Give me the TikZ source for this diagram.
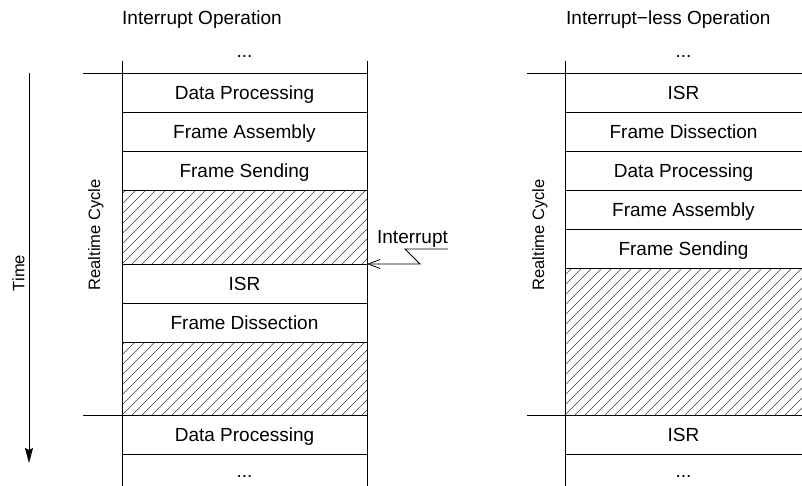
\documentclass[tikz,border=0pt]{standalone}
\usepackage{fontspec}
\setmainfont{Liberation Sans}
\usetikzlibrary{arrows.meta}

% hatched idle slot between (#1,#2) and (#3,#4), lines at 45 degrees
\newcommand\idleslot[4]{%
  \begin{scope}
    \clip (#1,#2) rectangle (#3,#4);
    \foreach \s in {-160,-150,...,260}
      \draw[hatchline] (#1+\s,#4) -- (#1+\s+#4-#2,#2);
  \end{scope}}

\begin{document}
\begin{tikzpicture}[x=1pt,y=-1pt,
  lbl/.style={font=\fontsize{19}{22}\selectfont, inner sep=0pt, anchor=base},
  side/.style={font=\fontsize{16.5}{20}\selectfont, inner sep=0pt, rotate=90},
  rule/.style={line width=0.9pt, line cap=rect},
  hatchline/.style={black!75, line width=0.55pt}]
\useasboundingbox (0,0) rectangle (802,486);

% ---------- titles ----------
\node[lbl, anchor=base west] (t1) at (122,25) {Interrupt Operation};
\node[lbl, anchor=base west] (t2) at (566,25) {Interrupt\char"2212 less Operation};

% ---------- time axis ----------
\coordinate (tstart) at (29,73);
\coordinate (tend) at (29,463);
\draw[line width=0.9pt, -{Stealth[length=15pt,width=8pt,inset=2pt]}] (tstart) -- (tend);
\node[side, anchor=center] (time) at (18.5,273) {Time};

% ---------- interrupt operation column ----------
\idleslot{122}{190}{367}{264}
\idleslot{122}{342}{367}{415}
\draw[rule] (122,61) -- (122,486);
\draw[rule] (367,61) -- (367,486);
\draw[rule] (83,73) -- (367,73);
\draw[rule] (83,415) -- (367,415);
\foreach \y in {112,151,190,264,303,342,454}
  \draw[rule] (122,\y) -- (367,\y);

\node[side, anchor=base] (cyc1) at (100,235) {Realtime Cycle};

\node[lbl] (a0) at (244.5,58) {...};
\node[lbl] (a1) at (244.5,99.5) {Data Processing};
\node[lbl] (a2) at (244.5,138.5) {Frame Assembly};
\node[lbl] (a3) at (244.5,177.5) {Frame Sending};
\node[lbl] (a4) at (244.5,290.5) {ISR};
\node[lbl] (a5) at (244.5,329.5) {Frame Dissection};
\node[lbl] (a6) at (244.5,441.5) {Data Processing};
\node[lbl] (a7) at (244.5,477) {...};

% interrupt signal
\coordinate (irqhit) at (367,264);
\coordinate (irqa) at (420,264);
\coordinate (irqb) at (405,249);
\coordinate (irqc) at (448,249);
\draw[line width=0.8pt, -{Straight Barb[length=12pt,width=9pt]}]
  (irqc) -- (irqb) -- (irqa) -- (irqhit);
\node[lbl] (irq) at (412.5,243.5) {Interrupt};

% ---------- interrupt-less operation column ----------
\idleslot{565}{268}{802}{415}
\draw[rule] (565,61) -- (565,486);
\draw[rule] (527,73) -- (802,73);
\draw[rule] (527,415) -- (802,415);
\foreach \y in {112,151,190,229,268,454}
  \draw[rule] (565,\y) -- (802,\y);

\node[side, anchor=base] (cyc2) at (544,235) {Realtime Cycle};

\node[lbl] (b0) at (683.5,58) {...};
\node[lbl] (b1) at (683.5,99.5) {ISR};
\node[lbl] (b2) at (683.5,138.5) {Frame Dissection};
\node[lbl] (b3) at (683.5,177.5) {Data Processing};
\node[lbl] (b4) at (683.5,216.5) {Frame Assembly};
\node[lbl] (b5) at (683.5,255.5) {Frame Sending};
\node[lbl] (b6) at (683.5,441.5) {ISR};
\node[lbl] (b7) at (683.5,477) {...};
\end{tikzpicture}
\end{document}
